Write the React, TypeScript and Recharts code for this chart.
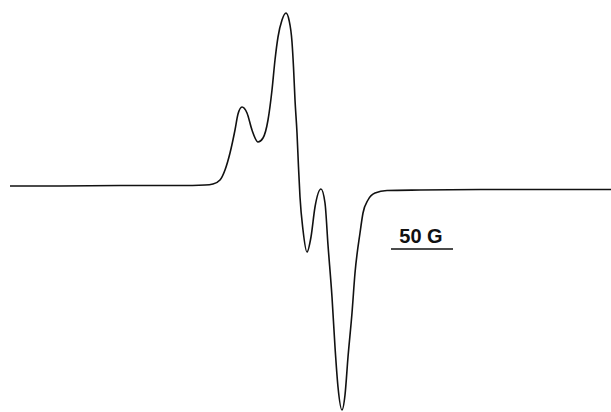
import React from 'react';
import { LineChart, Line, XAxis, YAxis, ReferenceLine } from 'recharts';

// field position (arbitrary units, 61 units = 50 G) and derivative signal
const fieldPos = [
  10, 60, 120, 180, 205, 213, 220, 225, 230, 235, 238, 242, 247, 252, 258, 263,
  268, 272, 275, 278, 282, 286, 289, 292, 293.5, 295, 297, 298.5, 300, 303, 307,
  311, 315, 321, 325, 328, 332, 335, 338, 342, 345, 348, 352, 355, 360, 363, 368,
  375, 387, 420, 500, 611,
];
const signal = [
  0, 0, 0.5, 0.5, 1, 2, 6, 16, 33, 56, 72, 79, 73, 56, 44, 48,
  66, 96, 126, 149, 166, 173, 166, 144, 119, 86, 53, 19, -11, -44, -66,
  -51, -21, -3, -17, -59, -111, -161, -201, -224, -209, -171, -127, -87, -47, -27, -14,
  -7, -4.5, -4, -3.5, -3.5,
];

// scale bar
const scaleBarStart = 391;
const scaleBarEnd = 453;
const scaleBarLevel = -63;
const scaleBarText = '50 G';

const data = fieldPos.map((x, i) => ({ x, y: signal[i] }));

const ScaleLabel = (props: any) => {
  const { viewBox } = props;
  if (!viewBox) return null;
  const cx = viewBox.x + (viewBox.width || 0) / 2 - 1;
  return (
    <text
      x={cx}
      y={viewBox.y - 6}
      textAnchor="middle"
      fontFamily="'Liberation Sans', Arial, sans-serif"
      fontSize={20}
      fontWeight="bold"
      fill="#111"
    >
      {scaleBarText}
    </text>
  );
};

export default function App() {
  return (
    <div style={{ width: 611, height: 412, background: '#fff', overflow: 'hidden' }}>
      <style>{'html, body { margin: 0; padding: 0; background: #fff; }'}</style>
      <LineChart
        width={611}
        height={412}
        data={data}
        margin={{ top: 0, right: 0, bottom: 0, left: 0 }}
        accessibilityLayer={false}
      >
        <XAxis dataKey="x" type="number" domain={[0, 611]} hide />
        <YAxis type="number" domain={[-226, 186]} hide />
        <Line
          dataKey="y"
          type="monotone"
          stroke="#111"
          strokeWidth={1.6}
          dot={false}
          activeDot={false}
          isAnimationActive={false}
        />
        <ReferenceLine
          segment={[
            { x: scaleBarStart, y: scaleBarLevel },
            { x: scaleBarEnd, y: scaleBarLevel },
          ]}
          stroke="#111"
          strokeWidth={1.5}
          label={<ScaleLabel />}
        />
      </LineChart>
    </div>
  );
}
